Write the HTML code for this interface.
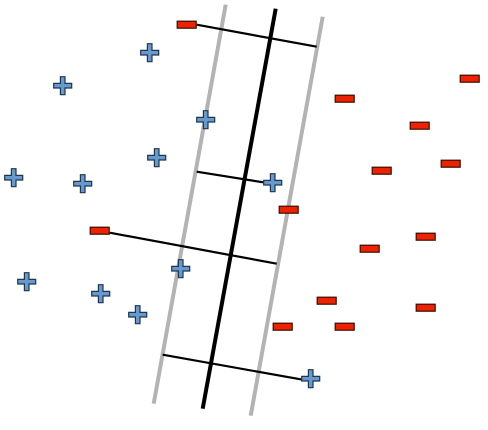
<!DOCTYPE html>
<html><head><meta charset="utf-8"><style>html,body{margin:0;padding:0;background:#fff}svg{display:block}</style></head>
<body>
<svg id="chart" width="488" height="430" viewBox="0 0 488 430" xmlns="http://www.w3.org/2000/svg"></svg>
<script>
const plusX=[149,62,205,156,13,82,272,180,26,100,137,310];
const plusY=[52,85,119,157,177,183,182,268,281,293,314,378];
const minusX=[186,469,344,419,450,381,288,99,369,425,326,282,344,425];
const minusY=[24,78,98,125,163,170,209,230,248,236,300,326,326,307];
const boundaryX1=[225,275,322];const boundaryY1=[4,8,16];
const boundaryX2=[153,202,250];const boundaryY2=[403,408,415];
const boundaryKind=['margin-left','decision','margin-right'];
const perpX1=[196,196,109,162];const perpY1=[24,171,232,354];
const perpX2=[316,265,276,302];const perpY2=[46,182,263,379];
const NS='http://www.w3.org/2000/svg';
const svg=document.getElementById('chart');
const sx=v=>v+0.7, sy=v=>v+0.7;
function mk(t,a){const e=document.createElementNS(NS,t);for(const k in a)e.setAttribute(k,a[k]);svg.appendChild(e);return e;}
for(let i=0;i<3;i++){
 const dec=boundaryKind[i]==='decision';
 const l=mk('line',{x1:sx(boundaryX1[i]),y1:sy(boundaryY1[i]),x2:sx(boundaryX2[i]),y2:sy(boundaryY2[i]),stroke:dec?'#000':'#b3b3b3','stroke-width':4});
 
 
}
for(let i=0;i<perpX1.length;i++){
 const l=mk('line',{x1:sx(perpX1[i]),y1:sy(perpY1[i]),x2:sx(perpX2[i]),y2:sy(perpY2[i]),stroke:'#000','stroke-width':2.2});
 
 
}
for(let i=0;i<plusX.length;i++){
 const x=sx(plusX[i]),y=sy(plusY[i]),a=9,w=2.3;
 const d=`M${x-w},${y-a}H${x+w}V${y-w}H${x+a}V${y+w}H${x+w}V${y+a}H${x-w}V${y+w}H${x-a}V${y-w}H${x-w}Z`;
 const p=mk('path',{d:d,fill:'#6699cc',stroke:'#1f3550','stroke-width':1.2});
 
 
}
for(let i=0;i<minusX.length;i++){
 const r=mk('rect',{x:sx(minusX[i])-9.5,y:sy(minusY[i])-3.5,width:19,height:7,fill:'#ee2200',stroke:'#3a1000','stroke-width':1.2});
 
 
}
</script>
</body></html>
